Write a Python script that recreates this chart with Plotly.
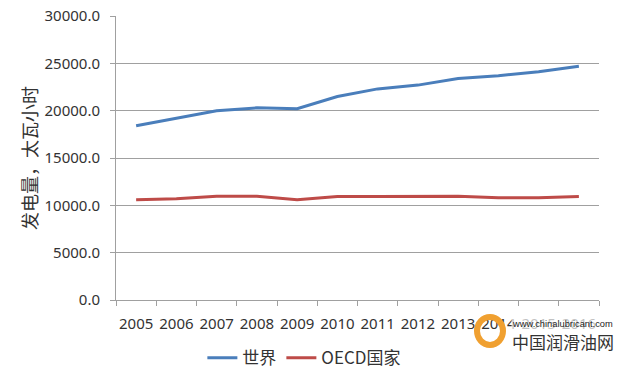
import plotly.graph_objects as go

years = ["2005", "2006", "2007", "2008", "2009", "2010", "2011", "2012", "2013", "2014", "2015", "2016"]
world = [18400, 19200, 20000, 20300, 20200, 21500, 22300, 22700, 23400, 23700, 24100, 24700]
oecd = [10600, 10700, 10950, 10950, 10600, 10930, 10930, 10950, 10950, 10800, 10800, 10930]
series_names = ["世界", "OECD国家"]
y_ticks = [0, 5000, 10000, 15000, 20000, 25000, 30000]
y_title = "发电量，太瓦小时"

font_fam = "Noto Sans, Noto Sans CJK SC, sans-serif"

fig = go.Figure()
fig.add_trace(go.Scatter(x=years, y=world, mode="lines", name=series_names[0],
                         line=dict(color="#4A7EBB", width=3)))
fig.add_trace(go.Scatter(x=years, y=oecd, mode="lines", name=series_names[1],
                         line=dict(color="#BE4B48", width=3)))

fig.update_layout(
    width=640, height=376,
    margin=dict(l=116, r=41, t=16, b=76, autoexpand=False),
    paper_bgcolor="white", plot_bgcolor="white",
    font=dict(family=font_fam, color="#333333", size=15),
    showlegend=True,
    legend=dict(orientation="h", x=0.39, y=-0.205, xanchor="center", yanchor="middle",
                font=dict(size=17, family="Noto Sans CJK SC, Noto Sans, sans-serif", color="#333333"),
                itemwidth=30, traceorder="normal"),
)
fig.update_xaxes(
    type="category", showgrid=False, showline=True, linecolor="#A0A0A0", linewidth=1,
    ticks="outside", ticklen=5, tickcolor="#A0A0A0", tickson="boundaries",
    tickfont=dict(size=15), range=[-0.5, 11.5], automargin=False, ticklabelstandoff=10,
    tickangle=0,
)
fig.update_yaxes(
    range=[0, 30000], tickvals=y_ticks, tickformat=".1f",
    showgrid=True, gridcolor="#A0A0A0", gridwidth=1,
    showline=True, linecolor="#A0A0A0", linewidth=1,
    ticks="outside", ticklen=5, tickcolor="#A0A0A0",
    tickfont=dict(size=15), zeroline=False, automargin=False, ticklabelstandoff=7,
    title=dict(text=y_title, font=dict(size=18, family="Noto Sans CJK SC, sans-serif"), standoff=2),
)

# watermark
fig.add_shape(type="circle", xref="paper", yref="paper",
              x0=(477 - 116) / 483, x1=(503 - 116) / 483,
              y0=(300 - 345) / 284, y1=(300 - 317) / 284,
              line=dict(color="#F0A030", width=6), fillcolor="rgba(0,0,0,0)", layer="above")
fig.add_annotation(xref="paper", yref="paper", x=(511 - 116) / 483, y=(300 - 324) / 284,
                   xanchor="left", yanchor="middle", showarrow=False,
                   text="www.chinalubricant.com",
                   font=dict(size=9.3, family="Liberation Sans, sans-serif", color="#222222"),
                   bgcolor="rgba(255,255,255,0.7)", borderpad=0)
fig.add_annotation(xref="paper", yref="paper", x=(510 - 116) / 483, y=(300 - 341) / 284,
                   xanchor="left", yanchor="middle", showarrow=False,
                   text="中国润滑油网",
                   font=dict(size=17, family="Noto Sans CJK SC, sans-serif", color="#333333"))

fig.write_html("out.html", config={"displayModeBar": False},
               post_script="document.body.style.margin='0';document.body.style.padding='0';")
